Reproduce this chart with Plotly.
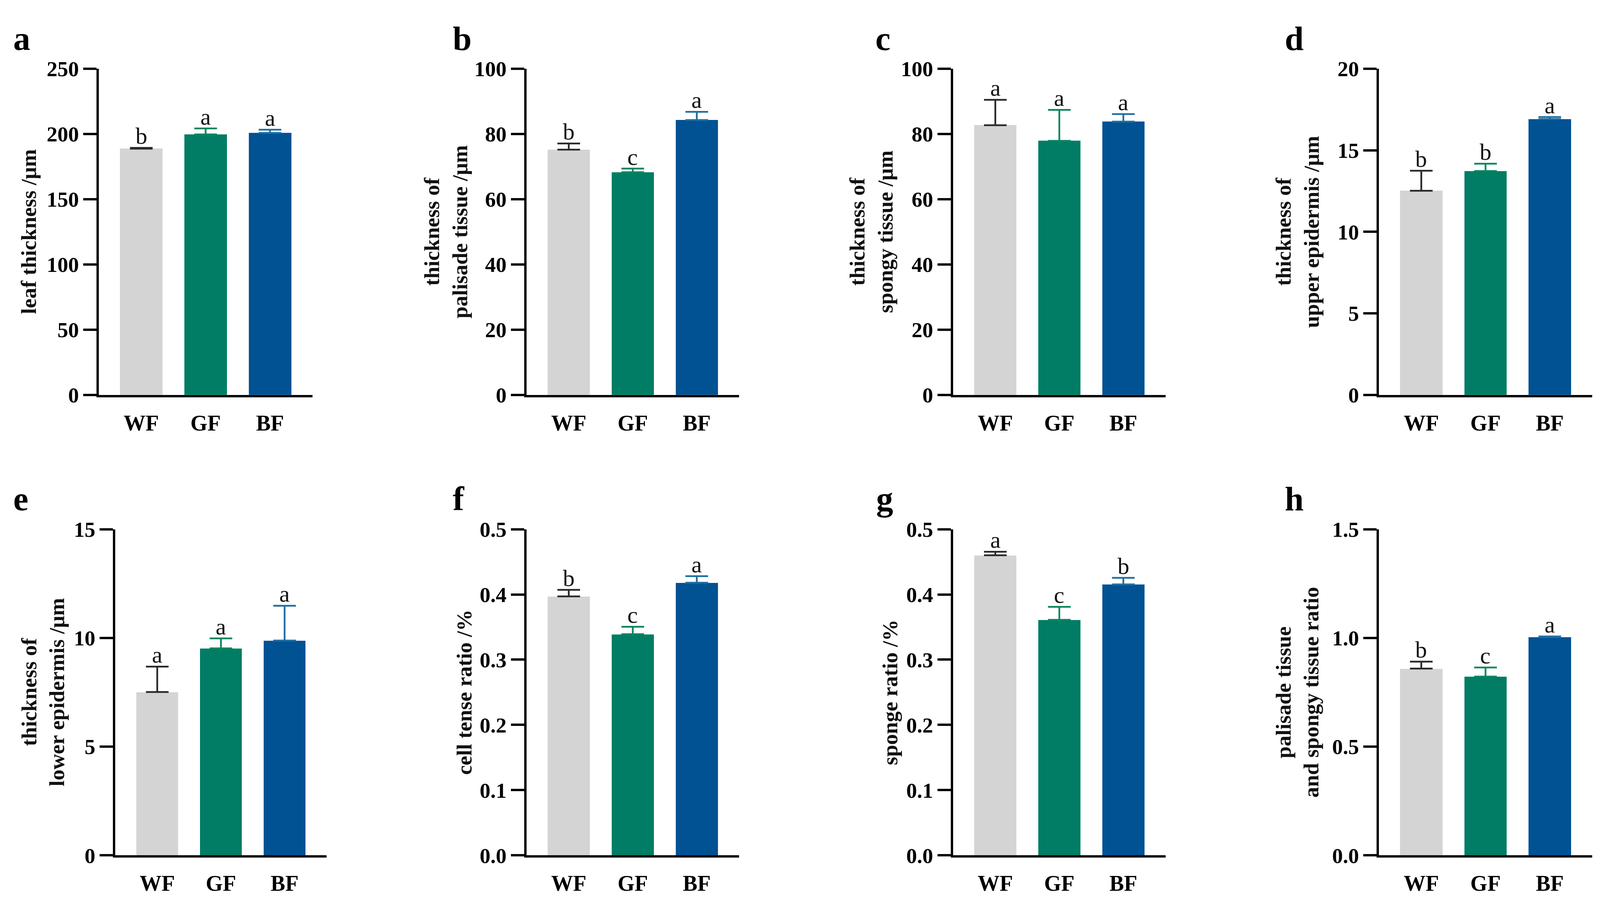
import plotly.graph_objects as go

# ---------- data ----------
CATEGORIES = ["WF", "GF", "BF"]

LEAF = [188.8, 199.7, 200.8]
LEAF_ERR = [0.6, 4.6, 2.5]
LEAF_SIG = ["b", "a", "a"]

PALISADE = [75.2, 68.3, 84.3]
PALISADE_ERR = [1.9, 1.1, 2.5]
PALISADE_SIG = ["b", "c", "a"]

SPONGY = [82.7, 77.9, 83.8]
SPONGY_ERR = [7.8, 9.5, 2.3]
SPONGY_SIG = ["a", "a", "a"]

UPPER_EPI = [12.52, 13.73, 16.92]
UPPER_EPI_ERR = [1.23, 0.45, 0.12]
UPPER_EPI_SIG = ["b", "b", "a"]

LOWER_EPI = [7.51, 9.52, 9.88]
LOWER_EPI_ERR = [1.17, 0.46, 1.6]
LOWER_EPI_SIG = ["a", "a", "a"]

CTR = [0.397, 0.339, 0.418]
CTR_ERR = [0.010, 0.0115, 0.010]
CTR_SIG = ["b", "c", "a"]

SR = [0.460, 0.361, 0.4155]
SR_ERR = [0.0055, 0.020, 0.010]
SR_SIG = ["a", "c", "b"]

PS_RATIO = [0.859, 0.822, 1.004]
PS_RATIO_ERR = [0.032, 0.042, 0.003]
PS_RATIO_SIG = ["b", "c", "a"]

BAR_COLORS = ["#d4d4d4", "#007d64", "#005293"]
ERR_COLORS = ["#2a2a2a", "#0a8560", "#1f6fa3"]

# (letter, y title, values, errors, sig letters, y max, dtick, tick format)
PANELS = [
    ("a", "leaf thickness /μm", LEAF, LEAF_ERR, LEAF_SIG, 250, 50, ""),
    ("b", "thickness of<br>palisade tissue /μm", PALISADE, PALISADE_ERR, PALISADE_SIG, 100, 20, ""),
    ("c", "thickness of<br>spongy tissue /μm", SPONGY, SPONGY_ERR, SPONGY_SIG, 100, 20, ""),
    ("d", "thickness of<br>upper epidermis /μm", UPPER_EPI, UPPER_EPI_ERR, UPPER_EPI_SIG, 20, 5, ""),
    ("e", "thickness of<br>lower epidermis /μm", LOWER_EPI, LOWER_EPI_ERR, LOWER_EPI_SIG, 15, 5, ""),
    ("f", "cell tense ratio /%", CTR, CTR_ERR, CTR_SIG, 0.5, 0.1, ".1f"),
    ("g", "sponge ratio /%", SR, SR_ERR, SR_SIG, 0.5, 0.1, ".1f"),
    ("h", "palisade tissue<br>and spongy tissue ratio", PS_RATIO, PS_RATIO_ERR, PS_RATIO_SIG, 1.5, 0.5, ".1f"),
]

# ---------- layout ----------
# positions measured on the 4291 x 2342 reference, used as paper fractions
REF_W, REF_H = 4291, 2342
# the browser viewport is only 4096 px wide, so draw the figure at that width
FIG_W, FIG_H = 4096, 2342
S = 0.97  # font scale for the narrower canvas

# (y-axis x, x-axis end, top tick y, zero y, title centre x, letter x)
GEOM = [
    (265, 838, 150, 1007, 77, 33),
    (1412, 1982, 150, 1007, 1196, 1212),
    (2556, 3126, 150, 1007, 2337, 2346),
    (3698, 4270, 150, 1007, 3480, 3443),
    (309, 876, 1360, 2217, 116, 33),
    (1412, 1982, 1360, 2217, 1245, 1212),
    (2556, 3126, 1360, 2217, 2387, 2348),
    (3698, 4270, 1360, 2217, 3480, 3443),
]

FONT = "Liberation Serif, Times New Roman, serif"

fig = go.Figure()
annotations = []
layout = {}

for i, (panel, geom) in enumerate(zip(PANELS, GEOM), start=1):
    letter, ytitle, vals, errs, sig, ymax, dtick, fmt = panel
    x0, x1, ytop, yzero, tx, lx = geom
    xa, ya = f"x{i}", f"y{i}"

    fig.add_trace(go.Bar(
        x=CATEGORIES, y=vals, width=0.66,
        marker=dict(color=BAR_COLORS, line=dict(width=0)),
        xaxis=xa, yaxis=ya, showlegend=False,
    ))
    # error bars drawn per bar so each gets its own colour
    for c, v, e, col in zip(CATEGORIES, vals, errs, ERR_COLORS):
        fig.add_trace(go.Scatter(
            x=[c], y=[v], mode="markers",
            marker=dict(size=1, color="rgba(0,0,0,0)"),
            error_y=dict(type="data", array=[e], arrayminus=[0], symmetric=False,
                         color=col, thickness=4.5, width=29),
            xaxis=xa, yaxis=ya, showlegend=False, hoverinfo="skip",
        ))

    for c, v, e, s in zip(CATEGORIES, vals, errs, sig):
        annotations.append(dict(
            text=s, x=c, y=v + e, xref=xa, yref=ya,
            xanchor="center", yanchor="bottom", showarrow=False, yshift=-5,
            font=dict(family=FONT, size=round(62 * S), color="#111"),
        ))

    annotations.append(dict(
        text=ytitle, x=tx / REF_W, y=1 - (ytop + yzero) / 2 / REF_H,
        xref="paper", yref="paper", textangle=-90, showarrow=False,
        xanchor="center", yanchor="middle",
        font=dict(family=FONT, size=round(57 * S), color="#111", weight="bold"),
    ))
    annotations.append(dict(
        text=f"<b>{letter}</b>", x=lx / REF_W, y=1 - (ytop - 80) / REF_H,
        xref="paper", yref="paper", showarrow=False,
        xanchor="left", yanchor="middle",
        font=dict(family=FONT, size=round(90 * S), color="#000"),
    ))

    key = "" if i == 1 else str(i)
    layout[f"xaxis{key}"] = dict(
        domain=[x0 / REF_W, x1 / REF_W], anchor=ya, range=[-0.66, 2.66],
        showline=True, linewidth=6, linecolor="#000", ticks="",
        showgrid=False, zeroline=False, ticklabelstandoff=18,
        tickfont=dict(family=FONT, size=round(58 * S), color="#000", weight="bold"),
    )
    layout[f"yaxis{key}"] = dict(
        domain=[1 - yzero / REF_H, 1 - ytop / REF_H], anchor=xa, range=[0, ymax],
        dtick=dtick, tick0=0, tickformat=fmt,
        showline=True, linewidth=6, linecolor="#000",
        ticks="outside", ticklen=34, tickwidth=6, tickcolor="#000",
        showgrid=False, zeroline=False,
        tickfont=dict(family=FONT, size=round(57 * S), color="#000", weight="bold"),
    )

fig.update_layout(
    width=FIG_W, height=FIG_H,
    margin=dict(l=0, r=0, t=0, b=0),
    paper_bgcolor="white", plot_bgcolor="white",
    annotations=annotations,
    bargap=0,
    **layout,
)

# drop the default 8px body margin so the figure sits flush in the window
fig.write_html(
    "out.html",
    config=dict(displayModeBar=False),
    post_script="document.body.style.margin = '0';",
)
